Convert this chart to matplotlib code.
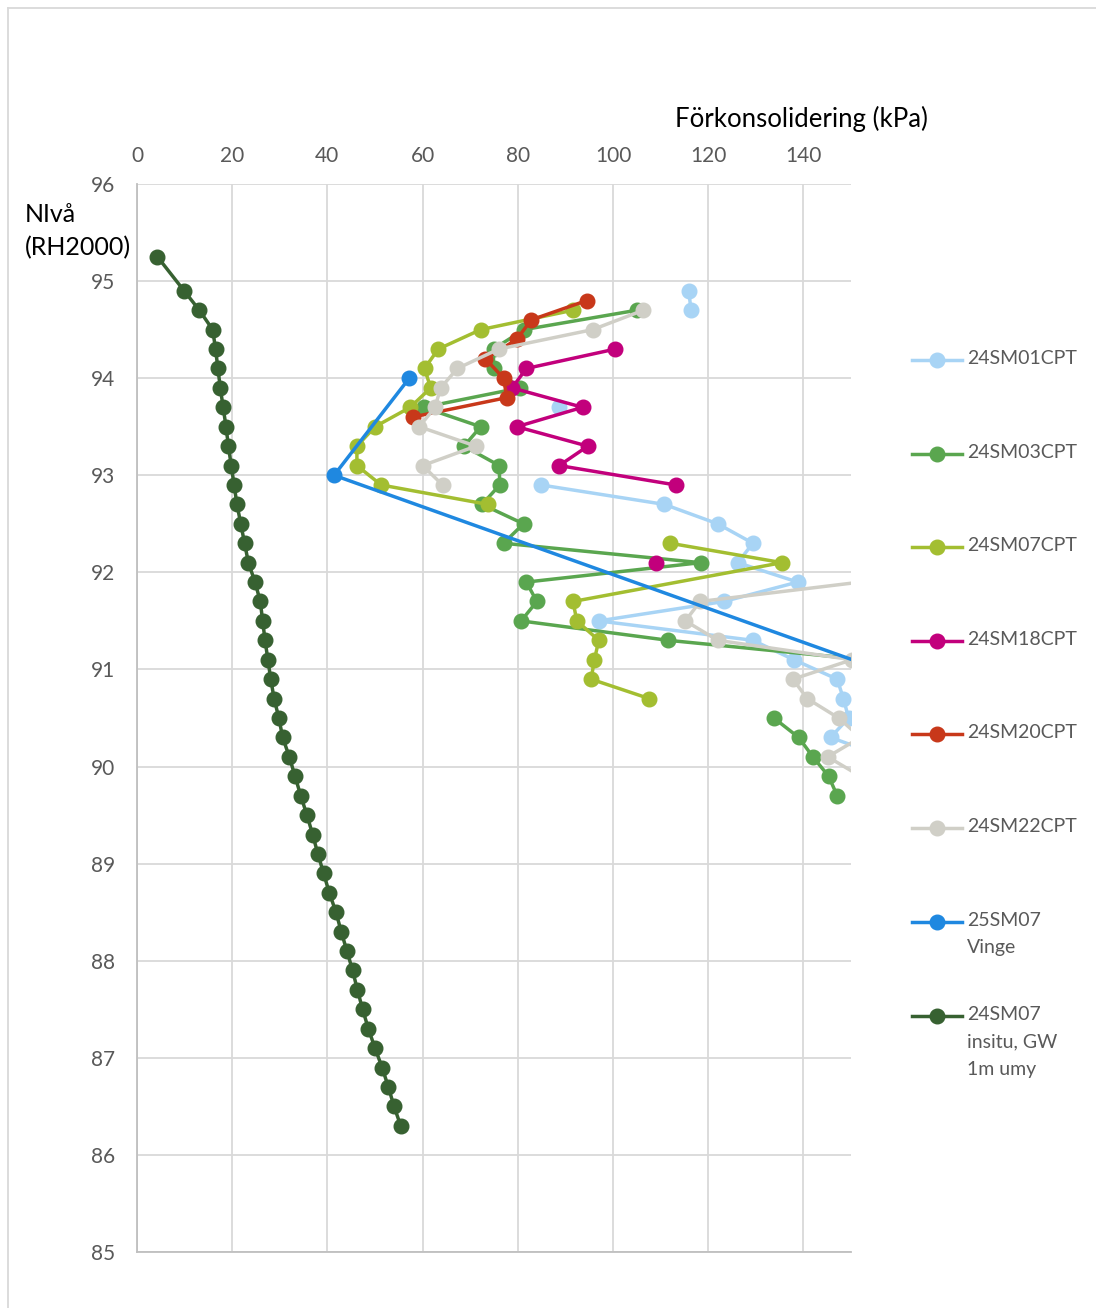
import numpy as np
import matplotlib
matplotlib.use("Agg")
import matplotlib.pyplot as plt
from matplotlib.lines import Line2D

plt.rcParams['font.family'] = ['Lato', 'DejaVu Sans']

nan = np.nan

# ---- data (x = Förkonsolidering kPa, y = Nivå RH2000) ----
sm01_depth = [94.9, 94.7, 94.5, 93.7, 93.5, 92.9, 92.7, 92.5, 92.3, 92.1, 91.9, 91.7, 91.5, 91.3, 91.1, 90.9, 90.7, 90.5, 90.3, 90.1]
sm01_val   = [115.9, 116.4, nan, 88.7, nan, 84.9, 110.8, 122.0, 129.4, 126.2, 138.8, 123.3, 97.0, 129.4, 138.0, 147.1, 148.4, 149.5, 145.7, 157.0]

sm03_depth = [94.7, 94.5, 94.3, 94.1, 93.9, 93.7, 93.5, 93.3, 93.1, 92.9, 92.7, 92.5, 92.3, 92.1, 91.9, 91.7, 91.5, 91.3, 91.1, 90.9, 90.7, 90.5, 90.3, 90.1, 89.9, 89.7]
sm03_val   = [105.0, 81.3, 74.9, 74.9, 80.5, 60.2, 72.2, 68.7, 76.1, 76.2, 72.5, 81.2, 77.0, 118.4, 81.8, 84.0, 80.7, 111.6, 153.0, nan, nan, 133.8, 139.0, 142.0, 145.3, 147.1]

sm07_depth = [94.7, 94.5, 94.3, 94.1, 93.9, 93.7, 93.5, 93.3, 93.1, 92.9, 92.7, 92.5, 92.3, 92.1, 91.7, 91.5, 91.3, 91.1, 90.9, 90.7]
sm07_val   = [91.6, 72.2, 63.3, 60.4, 61.7, 57.4, 50.0, 46.2, 46.2, 51.3, 73.7, nan, 112.0, 135.5, 91.6, 92.4, 97.0, 96.1, 95.4, 107.6]

sm18_depth = [94.3, 94.1, 93.9, 93.7, 93.5, 93.3, 93.1, 92.9, 92.7, 92.1]
sm18_val   = [100.5, 81.8, 78.8, 93.6, 79.8, 94.7, 88.7, 113.2, nan, 109.1]

sm20_depth = [94.8, 94.6, 94.4, 94.2, 94.0, 93.8, 93.6]
sm20_val   = [94.5, 82.8, 79.8, 73.2, 77.0, 77.7, 57.9]

sm22_depth = [94.7, 94.5, 94.3, 94.1, 93.9, 93.7, 93.5, 93.3, 93.1, 92.9, 92.7, 91.9, 91.7, 91.5, 91.3, 91.1, 90.9, 90.7, 90.5, 90.3, 90.1, 89.9]
sm22_val   = [106.4, 95.7, 76.0, 67.3, 63.8, 62.6, 59.3, 71.2, 60.0, 64.2, nan, 152.0, 118.3, 115.2, 122.0, 150.2, 137.8, 140.8, 147.4, 152.0, 145.1, 152.0]

vinge_depth = [94.0, 93.0, 91.0]
vinge_val   = [57.2, 41.4, 156.0]

insitu_depth = [95.25, 94.9, 94.7, 94.5, 94.3, 94.1, 93.9, 93.7, 93.5, 93.3, 93.1, 92.9, 92.7, 92.5, 92.3,
                92.1, 91.9, 91.7, 91.5, 91.3, 91.1, 90.9, 90.7, 90.5, 90.3, 90.1, 89.9, 89.7, 89.5, 89.3,
                89.1, 88.9, 88.7, 88.5, 88.3, 88.1, 87.9, 87.7, 87.5, 87.3, 87.1, 86.9, 86.7, 86.5, 86.3]
insitu_val   = [4.3, 9.9, 13.1, 15.9, 16.5, 17.0, 17.5, 18.1, 18.7, 19.2, 19.8, 20.4, 21.0, 21.8, 22.6,
                23.4, 24.8, 25.9, 26.4, 26.9, 27.5, 28.1, 28.8, 29.8, 30.6, 32.0, 33.2, 34.4, 35.7, 36.9,
                38.0, 39.2, 40.4, 41.8, 42.9, 44.1, 45.3, 46.3, 47.4, 48.6, 50.0, 51.5, 52.8, 54.0, 55.4]

labels = ['24SM01CPT', '24SM03CPT', '24SM07CPT', '24SM18CPT', '24SM20CPT', '24SM22CPT',
          '25SM07\nVinge', '24SM07\ninsitu, GW\n1m umy']
colors = ['#A8D4F5', '#5AA64F', '#A3BE31', '#C2007C', '#C8381A', '#D0CFC7', '#1F88E0', '#376131']
series = [(sm01_val, sm01_depth), (sm03_val, sm03_depth), (sm07_val, sm07_depth),
          (sm18_val, sm18_depth), (sm20_val, sm20_depth), (sm22_val, sm22_depth),
          (vinge_val, vinge_depth), (insitu_val, insitu_depth)]

xticks = [0, 20, 40, 60, 80, 100, 120, 140]
yticks = [85, 86, 87, 88, 89, 90, 91, 92, 93, 94, 95, 96]

W, H = 1096, 1308
fig = plt.figure(figsize=(W / 100, H / 100), dpi=100)
ax = fig.add_axes([137 / W, 1 - 1252 / H, (851 - 137) / W, (1252 - 184) / H])

for (xv, yv), c, lab in zip(series, colors, labels):
    ax.plot(xv, yv, color=c, lw=2.5, marker='o', ms=10.5, mec=c, mfc=c, clip_on=True, label=lab)

ax.set_xlim(0, 150)
ax.set_ylim(85, 96)
ax.set_xticks(xticks)
ax.set_yticks(yticks)
ax.xaxis.tick_top()
ax.grid(True, color='#D9D9D9', lw=1.3)
ax.set_axisbelow(True)
for s in ['top', 'right']:
    ax.spines[s].set_visible(False)
for s in ['left', 'bottom']:
    ax.spines[s].set_color('#BFBFBF')
    ax.spines[s].set_linewidth(1.3)
ax.tick_params(axis='x', length=0, pad=13, labelsize=15, labelcolor='#595959')
ax.tick_params(axis='y', length=0, pad=16, labelsize=15, labelcolor='#595959')

fig.text(801 / W, 1 - 119 / H, 'Förkonsolidering (kPa)', ha='center', va='center',
         fontsize=18.5, color='#000000')
fig.text(25 / W, 1 - 203 / H, 'NIvå\n(RH2000)', ha='left', va='top',
         fontsize=18, color='#000000', linespacing=1.5)

# legend (manual, handles aligned with first text line as in original)
leg_y = [360, 454, 547, 641, 734, 828, 922, 1016]
for yy, c, lab in zip(leg_y, colors, labels):
    fy = 1 - yy / H
    fig.add_artist(Line2D([912 / W, 962 / W], [fy, fy], color=c, lw=2.5, transform=fig.transFigure))
    fig.add_artist(Line2D([937 / W], [fy], color=c, marker='o', ms=10.5, lw=0, transform=fig.transFigure))
    fig.text(967 / W, 1 - (yy - 10) / H, lab, ha='left', va='top', fontsize=14,
             color='#595959', linespacing=1.75)

# chart area border
fig.add_artist(Line2D([8 / W, 8 / W], [0, 1 - 8 / H], color='#D9D9D9', lw=1.3, transform=fig.transFigure))
fig.add_artist(Line2D([8 / W, 1], [1 - 8 / H, 1 - 8 / H], color='#D9D9D9', lw=1.3, transform=fig.transFigure))

fig.savefig('out.png', dpi=100, facecolor='white')
